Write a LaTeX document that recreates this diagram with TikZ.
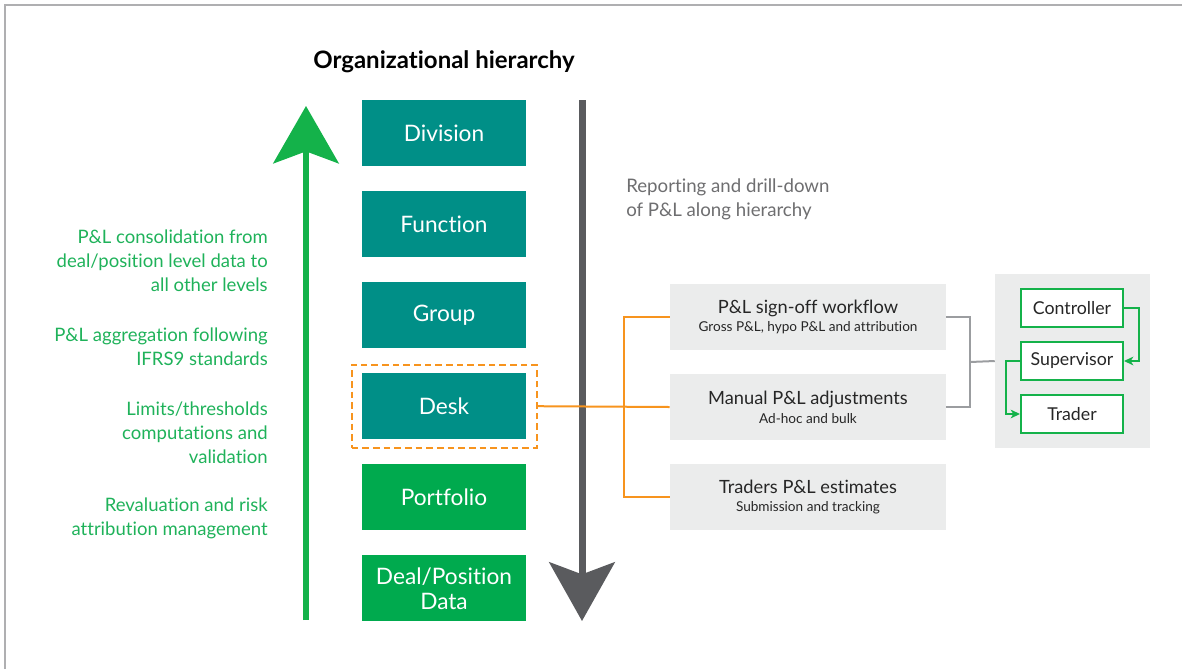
\documentclass[tikz,border=0pt]{standalone}
\usepackage{fontspec}
\setmainfont{Lato}[Ligatures={NoCommon}]
\usepackage{tikz}
\usetikzlibrary{positioning}
\usetikzlibrary{arrows.meta}

\definecolor{levelteal}{RGB}{0,143,135}
\definecolor{levelgreen}{RGB}{0,170,78}
\definecolor{upgreen}{RGB}{20,178,74}
\definecolor{notegreen}{RGB}{31,178,90}
\definecolor{downgray}{RGB}{90,91,94}
\definecolor{notegray}{RGB}{110,110,112}
\definecolor{boxgray}{RGB}{235,236,236}
\definecolor{bracketgray}{RGB}{155,157,160}
\definecolor{linkorange}{RGB}{247,148,30}
\definecolor{framegray}{RGB}{175,175,177}

\begin{document}
\begin{tikzpicture}[x=0.75pt, y=-0.75pt,
    level/.style={inner sep=0pt, minimum width=123pt, minimum height=49.5pt, text=white, align=center, font=\fontsize{17}{18.75}\selectfont},
    task/.style={fill=boxgray, inner sep=0pt, minimum width=207pt, minimum height=49.5pt, align=center, text=black!85},
    role/.style={draw=upgreen, line width=1.5pt, fill=white, inner sep=0pt, minimum width=76.5pt, minimum height=29pt, font=\fontsize{13.3}{14}\selectfont, text=black!85},
    note/.style={text=notegreen, align=right, anchor=east, inner sep=0pt, font=\fontsize{13.9}{18}\selectfont},
    flow/.style={draw=upgreen, line width=1.5pt, -{Stealth[length=7pt, width=6.5pt, inset=2pt]}},
    ]

    \useasboundingbox (0,0) rectangle (1182,669);

    % draw the frame
    \draw[framegray, line width=1.5pt] (5,669) -- (5,5) -- (1182,5);

    \node[font=\bfseries\fontsize{18}{20}\selectfont] (title) at (444,62) {Organizational hierarchy};

    % hierarchy levels
    \node[level, fill=levelteal] (division) at (444,133) {Division};
    \node[level, fill=levelteal, below=18.4pt of division] (function) {Function};
    \node[level, fill=levelteal, below=18.4pt of function] (group) {Group};
    \node[level, fill=levelteal, below=18.4pt of group] (desk) {Desk};
    \node[level, fill=levelgreen, below=18.4pt of desk] (portfolio) {Portfolio};
    \node[level, fill=levelgreen, below=18.4pt of portfolio] (deal) {Deal/Position\\Data};

    \node[draw=linkorange, line width=1.5pt, dash pattern=on 5pt off 3pt, inner sep=0pt, minimum width=138.75pt, minimum height=62.25pt] (deskframe) at (desk) {};

    % draw the big arrows
    \coordinate (upfoot) at (306,620);
    \coordinate (uptip) at (306,106);
    \draw[upgreen, line width=4.5pt, -{Stealth[length=43pt, width=49pt, inset=9pt]}] (upfoot) -- (uptip);

    \coordinate (downtop) at (582,100);
    \coordinate (downtip) at (582,621);
    \draw[downgray, line width=5.25pt, -{Stealth[length=44pt, width=49pt, inset=9pt]}] (downtop) -- (downtip);

    \node[text=notegray, anchor=west, align=left, inner sep=0pt, font=\fontsize{14}{18}\selectfont] (reporting) at (626,199) {Reporting and drill-down\\of P\&L along hierarchy};

    % notes on the left
    \node[note] (consolidation) at (268,261) {P\&L consolidation from\\deal/position level data to\\all other levels};
    \node[note] (aggregation) at (268,347) {P\&L aggregation following\\IFRS9 standards};
    \node[note] (limits) at (268,433) {Limits/thresholds\\computations and\\validation};
    \node[note] (revaluation) at (268,518) {Revaluation and risk\\attribution management};

    % tasks at desk level
    \node[task] (signoff) at (808,317) {{\fontsize{13.7}{16}\selectfont P\&L sign-off workflow}\\[2pt]{\fontsize{10.2}{12}\selectfont Gross P\&L, hypo P\&L and attribution}};
    \node[task] (manual) at (808,407) {{\fontsize{13.7}{16}\selectfont Manual P\&L adjustments}\\[2pt]{\fontsize{10.2}{12}\selectfont Ad-hoc and bulk}};
    \node[task] (traders) at (808,497) {{\fontsize{13.7}{16}\selectfont Traders P\&L estimates}\\[2pt]{\fontsize{10.2}{12}\selectfont Submission and tracking}};

    \draw[linkorange, line width=1.5pt] (deskframe.east) -- (manual.west);
    \draw[linkorange, line width=1.5pt] (signoff.west) -- ++(-46,0) |- (traders.west);

    % roles panel
    \node[fill=boxgray, inner sep=0pt, minimum width=116.25pt, minimum height=130.5pt] (panel) at (1072.5,361) {};
    \node[role] (controller) at (1072,308) {Controller};
    \node[role] (supervisor) at (1072,361) {Supervisor};
    \node[role] (trader) at (1072,414) {Trader};

    \coordinate (bracket) at (970,362);
    \draw[bracketgray, line width=1.5pt] (signoff.east) -- ++(24,0) |- (manual.east);
    \draw[bracketgray, line width=1.5pt] (bracket) -- (panel.west);

    \draw[flow] (controller.east) -- ++(15,0) |- (supervisor.east);
    \draw[flow] (supervisor.west) -- ++(-14,0) |- (trader.west);

\end{tikzpicture}
\end{document}
